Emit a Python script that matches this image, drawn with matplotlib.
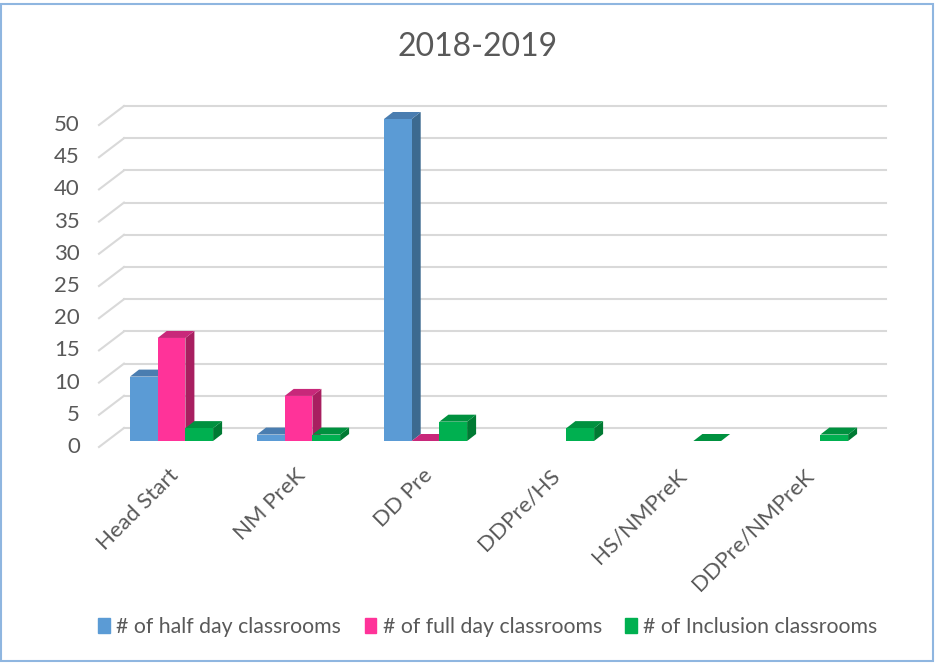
import numpy as np
import matplotlib.pyplot as plt
from matplotlib.patches import Polygon, Patch, Rectangle

categories = ['Head Start', 'NM PreK', 'DD Pre', 'DDPre/HS', 'HS/NMPreK', 'DDPre/NMPreK']
half_day = [10, 1, 50, np.nan, np.nan, np.nan]
full_day = [16, 7, 0, np.nan, np.nan, np.nan]
inclusion = [2, 1, 3, 2, 0, 1]
series_names = ['# of half day classrooms', '# of full day classrooms', '# of Inclusion classrooms']
yticks = [0, 5, 10, 15, 20, 25, 30, 35, 40, 45, 50]

# front, top, side colours
colors = [('#5B9BD5', '#4A7DB0', '#3C6A90'),
          ('#FF3399', '#C8287A', '#A81F60'),
          ('#00B050', '#00913F', '#007A33')]

W, H = 935, 663
fig = plt.figure(figsize=(W / 100, H / 100), dpi=100)
plt.rcParams['font.family'] = ['Lato', 'DejaVu Sans']
grey = '#595959'

# axes placed in pixels so depth offsets can be expressed in data units
px_x = 127.0          # pixels per category
px_y = 6.44           # pixels per unit
ax = fig.add_axes([108 / W, 222 / H, 762 / W, 322 / H])
ax.set_xlim(-0.5, 5.5)
ax.set_ylim(0, 50)
ax.axis('off')

def dx(p):
    return p / px_x

def dy(p):
    return p / px_y

# back wall gridlines and left floor diagonals
for v in yticks:
    x0 = -0.5
    ax.plot([x0 + dx(16), 5.5 + dx(16)], [v + dy(13), v + dy(13)],
            color='#D9D9D9', lw=1.5, clip_on=False, zorder=1)
    ax.plot([x0 - dx(9), x0 + dx(16)], [v - dy(6), v + dy(13)],
            color='#D9D9D9', lw=1.5, clip_on=False, zorder=1)
    ax.text(x0 - dx(28), v - dy(6), str(v), ha='right', va='center',
            fontsize=16, color=grey)

bw = 27.7 / px_x
ddx, ddy = dx(9), dy(7)
z = 2
for i in range(len(categories)):
    for j, vals in enumerate([half_day, full_day, inclusion]):
        v = vals[i]
        if np.isnan(v):
            continue
        front, top, side = colors[j]
        x0 = i - 41.5 / px_x + j * bw
        x1 = x0 + bw
        ax.add_patch(Polygon([(x1, 0), (x1 + ddx, ddy), (x1 + ddx, v + ddy), (x1, v)],
                             closed=True, fc=side, ec='none', zorder=z, clip_on=False))
        ax.add_patch(Polygon([(x0, v), (x0 + ddx, v + ddy), (x1 + ddx, v + ddy), (x1, v)],
                             closed=True, fc=top, ec='none', zorder=z, clip_on=False))
        if v > 0:
            ax.bar(x0, v, width=bw, align='edge', color=front, zorder=z + 0.5, clip_on=False)
        z += 1

for i, c in enumerate(categories):
    ax.text(i - dx(3), -dy(24), c, rotation=45, ha='right', va='top', rotation_mode='anchor',
            fontsize=16, color=grey)

fig.text(0.511, 1 - 47 / H, '2018-2019', ha='center', va='center', fontsize=23, color=grey)

handles = [Patch(color=colors[k][0]) for k in range(3)]
fig.legend(handles, series_names, loc='center', bbox_to_anchor=(0.522, 36 / H), ncol=3,
           frameon=False, fontsize=15.3, labelcolor=grey, handlelength=0.55, handleheight=0.75,
           handletextpad=0.3, columnspacing=1.1)

fig.add_artist(Rectangle((1 / W, 2 / H), 932 / W, 657 / H, transform=fig.transFigure,
                         fill=False, ec='#8FB6E0', lw=1.5))

fig.savefig('out.png', dpi=100)
